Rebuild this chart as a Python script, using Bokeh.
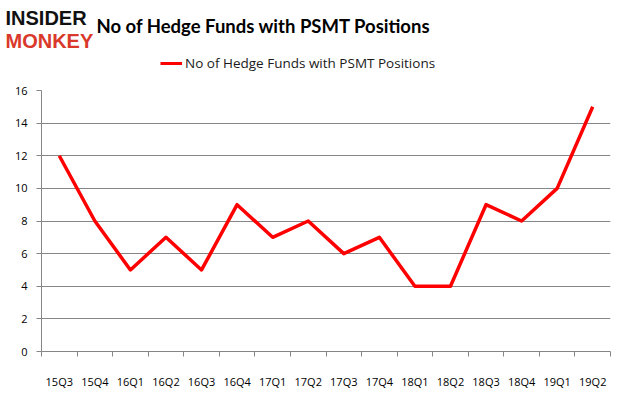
from bokeh.plotting import figure
from bokeh.layouts import column
from bokeh.models import FixedTicker, Label, Range1d, ColumnDataSource, Legend, LegendItem
from bokeh.embed import file_html
from bokeh.resources import INLINE

quarters = ["15Q3", "15Q4", "16Q1", "16Q2", "16Q3", "16Q4", "17Q1", "17Q2",
            "17Q3", "17Q4", "18Q1", "18Q2", "18Q3", "18Q4", "19Q1", "19Q2"]
funds = [12, 8, 5, 7, 5, 9, 7, 8, 6, 7, 4, 4, 9, 8, 10, 15]
y_ticks = [0, 2, 4, 6, 8, 10, 12, 14, 16]
title_text = "No of Hedge Funds with PSMT Positions"

W = 626
HEAD_H = 80
MAIN_H = 397 - HEAD_H

# ---------- header: logo, title, legend ----------
head = figure(width=W, height=HEAD_H, output_backend="svg", toolbar_location=None,
              x_range=Range1d(0, W), y_range=Range1d(0, HEAD_H),
              x_axis_location=None, y_axis_location=None,
              min_border_left=0, min_border_right=0, min_border_top=0, min_border_bottom=0)
head.frame_align = False
head.outline_line_color = None
head.xgrid.grid_line_color = None
head.ygrid.grid_line_color = None

head.add_layout(Label(x=96, y=HEAD_H - 25, x_units="screen", y_units="screen", text=title_text,
                      text_font="Lato", text_font_style="bold", text_font_size="18.5px",
                      text_baseline="middle", text_color="#000000"))
head.add_layout(Label(x=5, y=HEAD_H - 17, x_units="screen", y_units="screen", text="INSIDER",
                      text_font="Liberation Sans", text_font_style="bold", text_font_size="20px",
                      text_baseline="middle", text_color="#111111"))
head.add_layout(Label(x=5, y=HEAD_H - 40, x_units="screen", y_units="screen", text="MONKEY",
                      text_font="Liberation Sans", text_font_style="bold", text_font_size="20px",
                      text_baseline="middle", text_color="#d9392b"))

nan = float("nan")
legend_src = ColumnDataSource(dict(x=[nan], y=[nan]))
leg_line = head.line("x", "y", source=legend_src, line_color="#ff0000", line_width=3)
legend = Legend(items=[LegendItem(label=title_text, renderers=[leg_line])],
                location=(160, 7), orientation="horizontal",
                border_line_color=None, background_fill_alpha=0,
                label_text_font="Open Sans", label_text_font_size="13.5px",
                label_text_color="#1a1a1a",
                glyph_width=22, label_standoff=3, margin=0, padding=4)
head.add_layout(legend)

# ---------- main chart ----------
xs = [i + 0.5 for i in range(len(quarters))]
src = ColumnDataSource(dict(x=xs, y=funds))

p = figure(width=W, height=MAIN_H, output_backend="svg", toolbar_location=None,
           x_range=Range1d(0, len(quarters)), y_range=Range1d(0, 16),
           min_border_left=41, min_border_right=16, min_border_top=90 - HEAD_H, min_border_bottom=46)
p.frame_align = False
p.outline_line_color = None
p.background_fill_color = "white"
p.border_fill_color = "white"

p.line("x", "y", source=src, line_color="#ff0000", line_width=3.5, line_join="round")

p.xaxis.ticker = FixedTicker(ticks=xs, minor_ticks=list(range(len(quarters) + 1)))
p.xaxis.major_label_overrides = {x: q for x, q in zip(xs, quarters)}
p.xaxis.major_tick_out = 0
p.xaxis.major_tick_in = 0
p.xaxis.minor_tick_out = 5
p.xaxis.minor_tick_in = 0
p.xaxis.minor_tick_line_color = "#868686"
p.xaxis.axis_line_color = "#868686"
p.xaxis.major_label_standoff = 17
p.xaxis.major_label_text_font = "Open Sans"
p.xaxis.major_label_text_font_size = "11px"
p.xaxis.major_label_text_color = "#000000"

p.yaxis.ticker = FixedTicker(ticks=y_ticks)
p.yaxis.major_tick_out = 5
p.yaxis.major_tick_in = 0
p.yaxis.minor_tick_line_color = None
p.yaxis.major_tick_line_color = "#868686"
p.yaxis.axis_line_color = "#868686"
p.yaxis.major_label_standoff = 9
p.yaxis.major_label_text_font = "Open Sans"
p.yaxis.major_label_text_font_size = "11px"
p.yaxis.major_label_text_color = "#000000"

p.xgrid.grid_line_color = None
p.ygrid.grid_line_color = "#868686"
p.ygrid.grid_line_width = 1

layout = column(head, p, spacing=0)
open("out.html", "w").write(file_html(layout, INLINE))
